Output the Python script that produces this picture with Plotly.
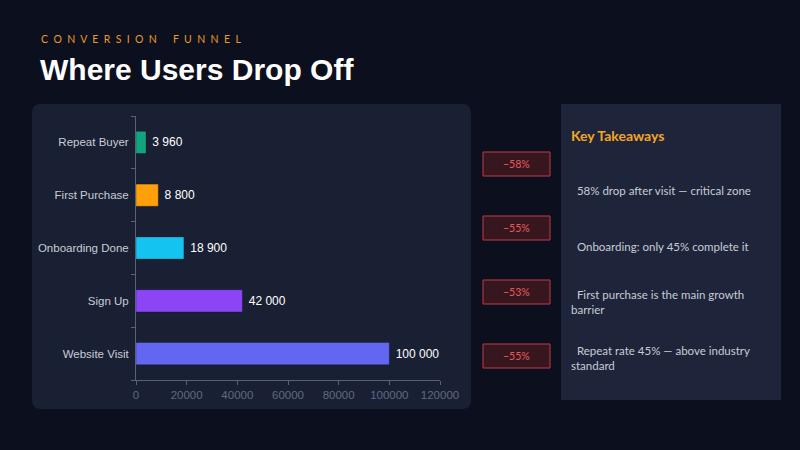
import plotly.graph_objects as go

# funnel data
stages = ["Website Visit", "Sign Up", "Onboarding Done", "First Purchase", "Repeat Buyer"]
users = [100000, 42000, 18900, 8800, 3960]
bar_colors = ["#6366f1", "#8b45f5", "#14c3f0", "#ff9f0a", "#12a47f"]
x_ticks = [0, 20000, 40000, 60000, 80000, 100000, 120000]

drop_labels = ["\u221258%", "\u221255%", "\u221253%", "\u221255%"]
takeaways = [
    "58% drop after visit \u2014 critical zone",
    "Onboarding: only 45% complete it",
    "First purchase is the main growth<br>barrier",
    "Repeat rate 45% \u2014 above industry<br>standard",
]

# plot area in pixels (used to place the extra boxes)
L, R, T, B = 136, 440, 116, 380
W, H = 800, 450


def px(x):
    return (x - L) / (R - L)


def py(y):
    return (B - y) / (B - T)


def round_rect(x0, y0, x1, y1, r):
    pts = [
        f"M {px(x0 + r)},{py(y0)}",
        f"L {px(x1 - r)},{py(y0)}",
        f"Q {px(x1)},{py(y0)} {px(x1)},{py(y0 + r)}",
        f"L {px(x1)},{py(y1 - r)}",
        f"Q {px(x1)},{py(y1)} {px(x1 - r)},{py(y1)}",
        f"L {px(x0 + r)},{py(y1)}",
        f"Q {px(x0)},{py(y1)} {px(x0)},{py(y1 - r)}",
        f"L {px(x0)},{py(y0 + r)}",
        f"Q {px(x0)},{py(y0)} {px(x0 + r)},{py(y0)}",
        "Z",
    ]
    return " ".join(pts)


fig = go.Figure()

fig.add_trace(go.Bar(
    y=stages,
    x=users,
    orientation="h",
    width=0.42,
    marker=dict(color=bar_colors, line=dict(color="rgba(0,0,0,0.25)", width=1)),
    text=["\u00a0" + f"{v:,}".replace(",", " ") for v in users],
    textposition="outside",
    cliponaxis=False,
    textfont=dict(color="#ffffff", size=12, family="Liberation Sans, Arial"),
    hoverinfo="skip",
))

shapes = [
    dict(type="path", xref="paper", yref="paper", layer="below",
         path=round_rect(32, 104, 471, 409, 9),
         fillcolor="#1a2034", line=dict(width=0)),
    dict(type="rect", xref="paper", yref="paper", layer="below",
         x0=px(561), x1=px(781), y0=py(104), y1=py(400),
         fillcolor="#1e253a", line=dict(width=0)),
]

sp = "\u00a0\u00a0"
annotations = [
    dict(text=sp.join("CONVERSION") + sp * 3 + sp.join("FUNNEL"),
         x=px(39), y=py(39), xref="paper", yref="paper", xanchor="left", yanchor="middle",
         showarrow=False, font=dict(size=10.5, color="#e89a2c", family="Lato")),
    dict(text="<b>Where Users Drop Off</b>",
         x=px(38), y=py(69), xref="paper", yref="paper", xanchor="left", yanchor="middle",
         showarrow=False, font=dict(size=30, color="#ffffff", family="Liberation Sans, Arial")),
    dict(text="<b>Key Takeaways</b>",
         x=px(569), y=py(135), xref="paper", yref="paper", xanchor="left", yanchor="middle",
         showarrow=False, font=dict(size=14, color="#f5a524", family="Lato")),
]

badge_y = [164, 228, 292, 356]
for lab, yc in zip(drop_labels, badge_y):
    shapes.append(dict(type="rect", xref="paper", yref="paper",
                       x0=px(483), x1=px(550), y0=py(yc - 12), y1=py(yc + 12),
                       fillcolor="#36171f", line=dict(color="#c03c42", width=1)))
    annotations.append(dict(text=lab, x=px(516.5), y=py(yc), xref="paper", yref="paper",
                            showarrow=False, xanchor="center", yanchor="middle",
                            font=dict(size=10.5, color="#e85a5e", family="Lato")))

note_y = [190, 246, 302, 358]
for txt, yc in zip(takeaways, note_y):
    annotations.append(dict(text="\u00a0\u00a0" + txt, x=px(569), y=py(yc),
                            xref="paper", yref="paper", showarrow=False,
                            xanchor="left", yanchor="middle", align="left",
                            font=dict(size=11.5, color="#c8ccd6", family="Lato")))

fig.update_layout(
    width=W, height=H,
    margin=dict(l=L, r=W - R, t=T, b=H - B),
    paper_bgcolor="#0c0f1d",
    plot_bgcolor="rgba(0,0,0,0)",
    showlegend=False,
    shapes=shapes,
    annotations=annotations,
    xaxis=dict(range=[0, 120000], tickvals=x_ticks, tickformat="d",
               showgrid=False, zeroline=False,
               showline=True, linecolor="#5a6275", linewidth=1,
               ticks="outside", ticklen=4, tickcolor="#5a6275",
               tickfont=dict(size=11.5, color="#5f6a82", family="Liberation Sans, Arial")),
    yaxis=dict(showgrid=False, zeroline=False, showline=True, linecolor="#5a6275",
               linewidth=1, ticks="outside", ticklen=4, tickcolor="#5a6275",
               tickson="boundaries", ticklabelstandoff=4,
               tickfont=dict(size=11.5, color="#c9ccd4", family="Liberation Sans, Arial")),
)

# drop the default page margin so the figure fills the window
fig.write_html("out.html", config={"displayModeBar": False},
               post_script="document.body.style.margin='0';")
